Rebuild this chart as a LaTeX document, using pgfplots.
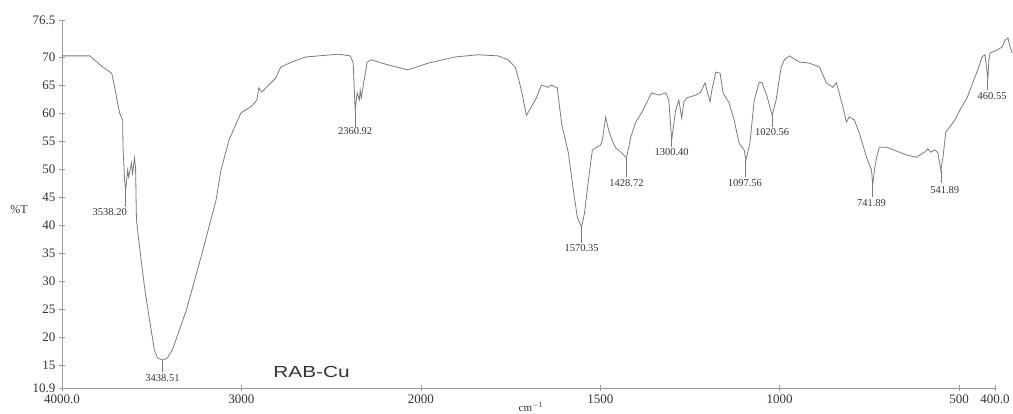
\documentclass[border=0pt]{standalone}
\usepackage{fontspec}
\setmainfont{Liberation Serif}
\newfontfamily\sansfont{Liberation Sans}
\usepackage{pgfplots}
\pgfplotsset{compat=1.18}
\definecolor{curve}{HTML}{7A7A7A}
\definecolor{axisgray}{HTML}{9A9A9A}
\definecolor{txt}{HTML}{333333}
\newcommand{\peak}[6]{%
  \draw[curve, line width=0.5pt] (axis cs:#1,#2) -- (axis cs:#1,#3);
  \node[font=\fontsize{10.5}{10.5}\selectfont, text=txt, inner sep=0pt] at (axis cs:#4,#5) {#6};}
\begin{document}
\begin{tikzpicture}[x=1pt,y=1pt]
\useasboundingbox (0,0) rectangle (1013,413);
\begin{axis}[
  at={(62pt,25pt)}, anchor=south west,
  scale only axis, width=933pt, height=367.4pt,
  x coord trafo/.code={\pgfmathparse{4000-#1+max(0,2000-#1)}},
  xmin=4000, xmax=400, ymin=10.9, ymax=76.5,
  axis lines=left, axis line style={-, axisgray, line width=0.8pt},
  clip=false,
  xtick={4000,3000,2000,1500,1000,500,400},
  xticklabels={4000.0,3000,2000,1500,1000,500,400.0},
  ytick={10.9,15,20,25,30,35,40,45,50,55,60,65,70,76.5},
  yticklabels={10.9,15,20,25,30,35,40,45,50,55,60,65,70,76.5},
  tick style={axisgray, line width=0.6pt},
  tick align=center, major tick length=6pt,
  ticklabel style={font=\fontsize{13}{13}\selectfont, text=txt},
  /pgf/number format/assume math mode=true,
]
\addplot[curve, line width=0.8pt, mark=none] table {
W T
4000 70.2
3845 70.2
3773 68.2
3723 67.1
3706 64.5
3679 60.0
3662 58.75
3660 53.9
3651 48.0
3645 46.25
3634 49.8
3629 48.6
3612 51.1
3607 48.9
3596 52.0
3590 50.2
3585 40.9
3568 36.1
3540 28.9
3512 23.0
3485 17.7
3468 16.25
3440 15.9
3413 16.25
3385 17.7
3307 24.8
3219 35.0
3141 44.5
3114 49.8
3069 55.2
3003 60.0
2942 61.25
2914 62.3
2903 64.5
2886 63.75
2864 64.5
2848 65.0
2809 66.25
2781 68.2
2720 69.1
2643 70.0
2571 70.2
2460 70.5
2393 70.2
2377 68.9
2366 60.5
2355 63.6
2343 62.3
2338 64.1
2332 62.7
2316 65.9
2299 69.1
2277 69.5
2183 68.6
2072 67.7
1980 68.9
1905 70.0
1841 70.4
1785 70.2
1757 69.5
1737 68.2
1729 66.4
1720 64.1
1706 59.6
1692 61.1
1678 62.7
1664 65.0
1645 64.6
1636 65.0
1625 64.6
1620 64.6
1608 58.2
1589 52.9
1575 46.25
1564 41.4
1552 39.6
1544 42.1
1533 48.0
1522 53.4
1510 53.9
1499 54.3
1494 55.2
1485 59.3
1477 57.0
1469 55.5
1457 53.75
1449 53.4
1435 52.5
1427 52.0
1415 55.7
1401 58.4
1385 60.0
1371 61.8
1357 63.6
1337 63.2
1317 63.6
1309 62.3
1301 55.2
1290 60.5
1281 62.3
1273 59.1
1267 62.0
1259 62.7
1234 63.2
1220 63.75
1208 65.4
1203 64.1
1194 62.0
1189 64.1
1178 67.3
1166 67.1
1158 63.6
1141 61.8
1127 58.75
1113 54.6
1099 53.4
1094 51.6
1083 54.6
1071 62.3
1057 65.5
1049 65.4
1035 62.9
1021 59.6
1010 62.3
996 68.2
987 69.5
973 70.2
945 69.1
917 68.9
889 68.2
870 65.4
852 64.6
842 65.4
825 61.4
814 58.4
806 59.3
792 58.75
778 56.4
758 52.1
744 49.8
741 47.1
736 49.8
730 52.1
722 53.9
702 53.9
674 53.2
646 52.5
618 52.1
610 52.5
596 53.0
587 53.6
579 53.0
568 53.4
559 52.9
551 49.8
545 52.1
537 56.6
526 57.5
512 58.75
498 60.5
478 62.7
462 65.4
448 67.7
436 70.0
428 70.4
422 67.3
420 65.9
417 69.5
414 70.7
394 71.25
380 71.8
372 73.0
364 73.4
358 71.8
352 70.7
};
\peak{3645}{46.25}{43.2}{3734}{42.3}{3538.20}
\peak{3440}{15.9}{13.75}{3440}{12.7}{3438.51}
\peak{2366}{60.5}{57.5}{2366}{56.8}{2360.92}
\peak{1552}{39.6}{36.8}{1552}{35.9}{1570.35}
\peak{1427}{52.0}{48.6}{1427}{47.5}{1428.72}
\peak{1301}{55.2}{53.9}{1301}{53.0}{1300.40}
\peak{1097}{51.6}{48.6}{1097}{47.5}{1097.56}
\peak{1021}{59.6}{57.5}{1021}{56.6}{1020.56}
\peak{741}{47.1}{45.0}{744}{43.9}{741.89}
\peak{551}{49.8}{47.5}{540}{46.25}{541.89}
\peak{422}{65.9}{64.1}{408}{63.0}{460.55}
\node[font=\sansfont\fontsize{16}{16}\selectfont, text=txt, xscale=1.3, inner sep=0pt] at (axis cs:2609,13.75) {RAB-Cu};
\node[font=\fontsize{12}{12}\selectfont, text=txt, inner sep=0pt] at (axis description cs:-0.046,0.4845) {\%T};
\node[font=\fontsize{11}{11}\selectfont, text=txt, inner sep=0pt, anchor=south] at (axis description cs:0.5027,-0.0655) {cm$^{-1}$};
\end{axis}
\end{tikzpicture}
\end{document}
